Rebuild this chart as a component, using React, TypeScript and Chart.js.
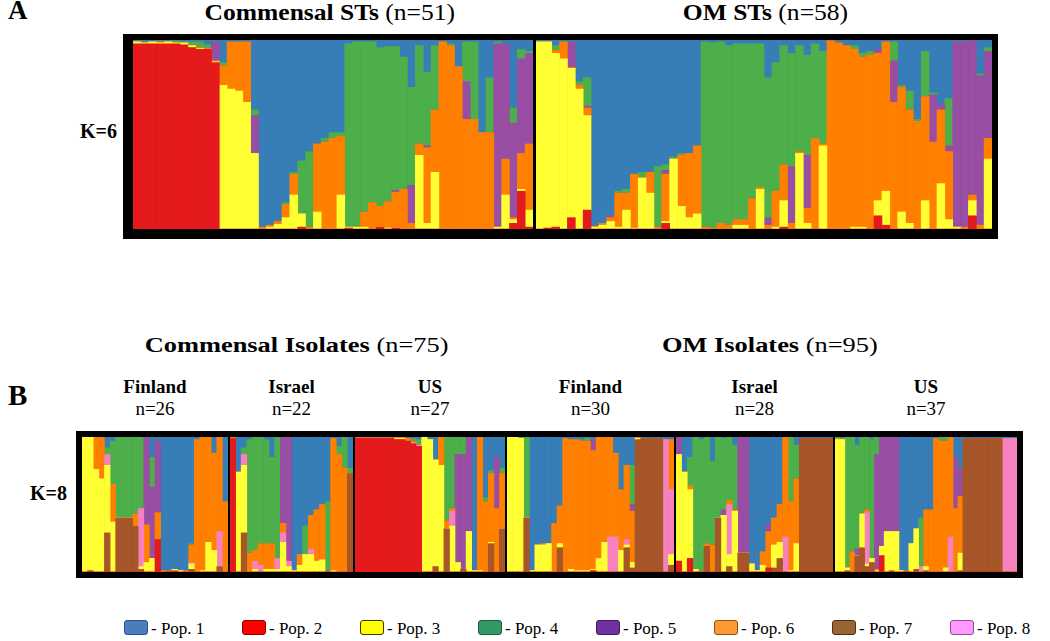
import React, { useEffect, useRef } from "react";
import { Chart, registerables } from "chart.js";

Chart.register(...registerables);

const FONT = '"Liberation Serif", "Times New Roman", serif';

// ---------- populations ----------
const popLabels = ["Pop. 1", "Pop. 2", "Pop. 3", "Pop. 4", "Pop. 5", "Pop. 6", "Pop. 7", "Pop. 8"];
const popBarColors = ["#377EB8", "#E41A1C", "#FFFF33", "#4DAF4A", "#984EA3", "#FF7F00", "#A65628", "#F781BF"];
const popLegendFill = ["#4A7EBB", "#FF0000", "#FFFF00", "#339966", "#7030A0", "#FF9933", "#996633", "#FF99FF"];
const popLegendEdge = ["#2F528F", "#8B0000", "#3A3A00", "#1E5C3D", "#3F1B5A", "#8A5218", "#4D3319", "#8A528A"];

// ---------- panel A : STs, K=6 ----------
const stGroupNames = ["Commensal STs", "OM STs"];
const stGroupTotals = ["(n=51)", "(n=58)"];
const stGroupCounts = [51, 58];
const stK = "K=6";

// each array: 51 commensal STs, then 58 OM STs
const stPop2 = [
  98, 98, 98, 98, 98, 98, 97.5, 96, 95, 95, 88, 0, 0, 0, 0, 0, 0, 0, 0, 0, 0, 1, 0, 0, 0, 0, 0, 0.5, 0, 0, 0, 1, 0, 0.5, 0, 0, 0, 0, 0, 0, 0, 0, 0, 0, 0, 0, 0, 0, 3, 20, 1,
  0, 0.5, 1, 0, 6, 0, 10, 0, 0, 0, 0, 0, 0, 0, 0, 0, 3, 0, 0, 0, 0, 0, 0, 0, 0, 0, 0, 0, 0, 0, 0, 1, 0, 0, 0, 0, 0, 0, 0, 0, 0, 0, 0, 7, 2, 0, 0, 0, 0, 0, 0, 0, 0, 0, 0, 7, 0, 0,
];
const stPop3 = [
  1, 0.5, 1, 0.5, 1, 0.5, 1, 1, 0.5, 0, 0.5, 76, 74, 73, 67, 40, 0, 1, 2.5, 6, 18, 7, 0, 9, 0, 0, 18, 0.5, 1, 1, 0, 0, 0.5, 0, 0, 0, 39, 3, 30, 0, 0, 0, 0, 0, 0, 0, 1, 18, 2, 1, 9,
  99, 98.5, 92, 90, 79, 74, 50, 1, 2, 4, 1, 10, 0.5, 27, 19, 0, 1, 37, 12, 6, 8, 0, 0, 0, 0, 2, 2, 0, 21, 0, 1, 14, 0, 40, 3, 0, 44, 0, 0, 0, 1, 1, 0, 8, 18, 0, 9, 3, 0, 15, 0, 24, 5, 1, 0, 8, 0, 37,
];
const stPop6 = [
  0, 0, 0, 0.5, 0, 0, 0, 0, 0.5, 0.5, 0.5, 10.5, 25, 26, 32, 0, 1, 1, 1.5, 7, 11, 0, 1, 36, 46, 48, 31, 0, 0, 8, 14, 11, 14, 19, 21, 3, 6, 40, 33, 99, 97, 86, 58, 58, 51, 51, 0, 19, 1, 19, 35,
  0, 0, 1.5, 9, 0.5, 2, 4, 0.5, 1, 2, 18, 9, 28.5, 0, 11, 1, 25, 0, 27, 34, 36, 1, 0.5, 3, 2, 3, 3, 16, 1, 2, 19, 19, 3, 1, 8, 48, 1, 99.5, 98.5, 97, 94, 90, 92, 78, 79, 67, 66, 60, 57, 55, 46, 39, 36, 0, 1, 3, 2, 11,
];
const stPop5 = [
  0, 0, 0, 0, 0, 0, 0, 0, 0, 0, 10, 0, 0, 0, 0, 20, 0, 0, 0, 0, 0, 0, 0, 0, 0, 0, 0, 0, 0, 0, 0, 0, 0, 1, 0, 20, 0, 1, 0, 0, 0, 0, 20, 0, 0, 0, 97, 61, 50, 50, 48,
  0, 0, 0, 0, 13.5, 0, 1, 0, 0, 1, 0, 0, 0, 0, 0, 0, 2, 0, 0, 0, 0, 0, 0, 0, 0, 0, 0, 0, 0, 4, 0, 0, 30, 0, 28, 0, 0, 0, 0, 0, 0, 0, 0, 2, 0, 22, 0, 0, 0, 0, 25, 3, 3, 98, 98, 82, 79, 46,
];
const stPop4 = [
  0.5, 0.5, 0, 0.5, 0.5, 1, 0.5, 2, 3, 2, 0, 1.5, 0, 0, 0, 3, 0, 0, 0, 1, 1, 28, 40, 0, 2, 3, 2, 97, 98, 90, 85, 84, 82, 76, 70, 52, 52, 39, 34, 0, 1, 0, 21, 41, 0, 29, 1, 0, 8, 5, 1,
  0, 0, 2.5, 0, 0, 2, 15, 0, 0, 0, 1, 2, 0, 3, 0, 32, 3, 1, 1, 0, 0, 98, 98, 96, 95, 93, 93, 82, 76, 74, 68, 63, 60, 56, 53, 50, 49, 0, 0, 0, 2, 2, 2, 0, 0, 10, 1, 10, 1, 24, 1, 0, 25, 0, 0, 0, 1, 2,
];
const stPop1 = [
  0.5, 1, 1, 0.5, 0.5, 0.5, 1, 1, 1, 2.5, 1, 12, 1, 1, 1, 37, 99, 98, 96, 86, 70, 64, 59, 55, 52, 49, 49, 2, 1, 1, 1, 4, 3.5, 3.5, 9, 25, 3, 17, 3, 1, 2, 14, 1, 1, 49, 20, 1, 2, 36, 5, 6,
  1, 1, 3, 1, 1, 22, 20, 98.5, 97, 93, 80, 79, 71, 70, 70, 67, 66, 62, 60, 60, 56, 1, 1.5, 1, 3, 2, 2, 2, 2, 20, 12, 3, 7, 3, 8, 2, 6, 0.5, 1.5, 3, 3, 7, 6, 5, 1, 1, 24, 27, 42, 6, 28, 34, 31, 1, 1, 0, 18, 4,
];

// ---------- panel B : isolates, K=8 ----------
const isoGroupNames = ["Commensal Isolates", "OM Isolates"];
const isoGroupTotals = ["(n=75)", "(n=95)"];
const isoRegionNames = ["Finland", "Israel", "US", "Finland", "Israel", "US"];
const isoRegionCounts = [26, 22, 27, 30, 28, 37];
const isoK = "K=8";

// rows: commensal Finland, Israel, US, then OM Finland, Israel, US
const isoPop2 = [
  0, 0, 0, 0, 0, 0, 0, 0, 0, 0, 0, 0, 0, 24, 0, 0, 0, 0, 0, 0, 0, 0, 0, 0, 0, 0,
  99, 0, 0, 0, 0, 0, 0, 0, 0, 0, 0, 0, 0, 0, 0, 0, 0, 0, 0, 0, 0, 0,
  99, 99, 99, 99, 99, 99, 99, 98, 98, 97, 95, 93, 0, 0, 0, 0, 0, 0, 0, 0, 0, 0, 0, 0, 0, 0, 0,
  0, 0, 0, 0, 0, 0, 0, 0, 0, 0, 0, 0, 0, 0, 0, 1, 0, 0, 0, 0, 0, 0, 0, 0, 0, 0, 0, 0, 0, 0,
  8, 0, 10, 0, 0, 0, 0, 0, 0, 0, 0, 0, 0, 0, 0, 0, 3, 0, 0, 0, 0, 0, 0, 0, 0, 0, 0, 0,
  0, 0, 0, 0, 0, 0, 0, 0, 0, 12, 0, 0, 0, 0, 0, 0, 0, 0, 0, 0, 0, 0, 0, 0, 0, 0, 0, 0, 0, 0, 0, 0, 0, 0, 0, 0, 0,
];
const isoPop7 = [
  0, 1, 0, 0, 29, 0, 40, 40, 40, 34, 2, 0, 0, 0, 0, 1, 1, 0, 0, 2, 0, 0, 0, 0, 4, 0,
  0, 0, 29, 0, 0, 0, 0, 0, 0, 0, 0, 0, 0, 0, 0, 0, 0, 0, 0, 0, 0, 73,
  0, 0, 0, 0, 0, 0, 0, 0, 0, 0, 0, 0, 0, 0, 4, 0, 32, 0, 0, 2, 0, 0, 0, 0, 21, 0, 32,
  0, 0, 0, 40, 0, 0, 0, 0, 0, 18, 0, 0, 0, 0, 0, 0, 0, 0, 0, 0, 0, 18, 3, 98, 99, 99, 99, 99, 0, 5,
  0, 0, 0, 0, 0, 19, 0, 40, 0, 4, 0, 14, 14, 0, 0, 0, 0, 3, 10, 0, 0, 0, 99, 99, 99, 99, 99, 99,
  0, 0, 1, 0, 12, 18, 4, 7, 0, 0, 0, 1, 0, 0, 1, 0, 2, 0, 1, 0, 0, 0, 0, 0, 0, 1, 99, 99, 99, 99, 99, 99, 99, 99, 0, 0, 0,
];
const isoPop3 = [
  100, 99, 76, 69, 50, 37, 0, 0, 0, 0, 2, 7, 10, 0, 0, 0, 1, 1, 0, 4, 0, 1, 22, 16, 0, 0,
  0, 74, 50, 0, 2, 0, 2, 2, 2, 22, 4, 1, 5, 13, 13, 8, 9, 0, 1, 0, 0, 0,
  0, 0, 0, 0, 0, 0, 0, 1, 1, 0, 0, 0, 100, 98, 79, 79, 0, 34, 7, 0, 30, 1, 1, 0, 1, 0, 0,
  100, 100, 99, 0, 1, 20, 20, 21, 0, 3, 0, 2, 1, 1, 1, 1, 10, 22, 0, 0, 16, 2, 4, 1, 0, 0, 0, 0, 0, 8,
  79, 74, 51, 2, 0, 0, 0, 0, 42, 9, 45, 0, 0, 6, 1, 5, 0, 17, 12, 0, 1, 21, 0, 0, 0, 0, 0, 0,
  98, 98, 2, 0, 0, 25, 2, 3, 1, 7, 30, 29, 30, 1, 0, 21, 30, 0, 3, 0, 0, 0, 3, 0, 0, 13, 0, 0, 0, 0, 0, 0, 0, 0, 0, 0, 0,
];
const isoPop8 = [
  0, 0, 0, 0, 8, 0, 0, 0, 0, 0, 43, 0, 0, 0, 0, 0, 0, 0, 0, 1, 0, 0, 0, 0, 26, 0,
  0, 0, 8, 0, 6, 5, 0, 0, 8, 7, 4, 0, 0, 0, 4, 0, 0, 0, 0, 0, 0, 0,
  0, 0, 0, 0, 0, 0, 0, 0, 0, 0, 1, 1, 0, 0, 0, 0, 0, 11, 0, 0, 0, 0, 0, 0, 0, 0, 0,
  0, 0, 0, 0, 0, 0, 0, 0, 0, 0, 0, 0, 0, 0, 0, 0, 0, 0, 26, 26, 0, 4, 0, 0, 0, 0, 0, 0, 98, 48,
  0, 0, 0, 0, 0, 0, 0, 0, 0, 37, 0, 0, 0, 0, 0, 0, 0, 0, 0, 26, 0, 0, 0, 0, 0, 0, 0, 0,
  0, 0, 0, 0, 0, 0, 38, 0, 0, 0, 0, 0, 0, 0, 0, 0, 0, 4, 0, 0, 0, 0, 0, 26, 0, 0, 0, 0, 0, 0, 0, 0, 0, 0, 99, 99, 99,
];
const isoPop6 = [
  0, 0, 24, 31, 0, 28, 0, 0, 0, 9, 0, 28, 0, 20, 1, 0, 0, 0, 1, 13, 98, 99, 78, 72, 70, 52,
  1, 0, 0, 14, 8, 16, 19, 19, 0, 7, 0, 0, 8, 0, 25, 38, 41, 0, 98, 87, 77, 0,
  0.5, 0.5, 0.5, 0.5, 0.5, 0.5, 0.5, 1, 1, 2, 1, 0, 0, 0, 0, 21, 6, 2, 0, 0, 0, 0, 99, 52, 51, 47, 41,
  0, 0, 0, 0, 0, 0, 1, 0, 36, 28, 99, 96, 97, 96, 96, 88, 90, 78, 74, 62, 45, 55, 38, 1, 0, 0, 0, 0, 0, 37,
  0, 0, 3, 0, 0, 2, 20, 0, 0, 3, 1, 0, 0, 0, 0, 10, 27, 20, 28, 74, 51, 48, 0, 0, 0, 0, 0, 0,
  1, 0, 0, 15, 0, 0, 2, 0, 1, 0, 0, 0, 0, 0, 0, 0, 0, 0, 42, 46, 99, 97, 94, 74, 47, 42, 0, 0, 0, 0, 0, 0, 0, 0, 0, 0, 0,
];
const isoPop5 = [
  0, 0, 0, 0, 0, 0, 0, 0, 0, 0, 0, 65, 53, 53, 0, 0, 0, 0, 0, 0, 0, 0, 0, 0, 0, 0,
  0, 0, 0, 0, 0, 0, 0, 0, 0, 64, 92, 0, 0, 0, 0, 0, 0, 1, 0, 0, 0, 0,
  0, 0, 0, 0, 0, 0, 0, 0, 0, 0, 0, 0, 0, 0, 0, 0, 0, 0, 80, 85, 70, 0, 0, 0, 0, 38, 0,
  0, 0, 0, 0, 0, 0, 0, 0, 0, 0, 0, 0, 0, 0, 0, 8, 0, 0, 0, 0, 0, 0, 5, 0, 0, 0, 0, 0, 0, 0,
  13, 0, 0, 0, 0, 0, 0, 0, 4, 0, 0, 86, 86, 0, 0, 0, 5, 0, 0, 0, 0, 0, 0, 0, 0, 0, 0, 0,
  0, 0, 0, 0, 5, 0, 0, 0, 85, 81, 70, 70, 70, 0, 0, 0, 0, 0, 0, 0, 0, 0, 0, 0, 38, 21, 0, 0, 0, 0, 0, 0, 0, 0, 0, 0, 0,
];
const isoPop4 = [
  0, 0, 0, 0, 5, 32, 60, 60, 60, 57, 53, 0, 22, 0, 0, 0, 0, 0, 0, 1, 0, 0, 0, 0, 0, 0,
  0, 0, 5, 84, 84, 79, 77, 64, 90, 0, 0, 0, 0, 21, 0, 0, 0, 51, 0, 6, 23, 4,
  0, 0, 0, 0, 0, 0, 0, 0, 0, 0, 2, 4, 0, 0, 0, 0, 62, 53, 13, 13, 0, 0, 0, 3, 2, 0, 4,
  0, 0, 1, 60, 0, 0, 0, 0, 0, 0, 0, 0, 0, 1, 2, 0, 0, 0, 0, 0, 0, 0, 29, 0, 0, 0, 0, 0, 0, 0,
  0, 0, 21, 98, 98, 79, 62, 60, 53, 47, 48, 0, 0, 0, 0, 0, 0, 0, 0, 0, 48, 25, 0, 0, 0, 0, 0, 0,
  1, 1, 97, 85, 77, 57, 54, 88, 13, 0, 0, 0, 0, 0, 0, 0, 0, 36, 0, 0, 0, 3, 3, 0, 0, 0, 0, 0, 0, 0, 0, 0, 0, 0, 0, 0, 0,
];
const isoPop1 = [
  0, 0, 0, 0, 8, 3, 0, 0, 0, 0, 0, 0, 15, 3, 99, 99, 98, 99, 99, 79, 2, 0, 0, 12, 0, 48,
  0, 26, 8, 2, 0, 0, 2, 15, 0, 0, 0, 99, 87, 66, 58, 54, 50, 48, 1, 7, 0, 23,
  0.5, 0.5, 0.5, 0.5, 0.5, 0.5, 0.5, 0, 0, 1, 1, 2, 0, 2, 17, 0, 0, 0, 0, 0, 0, 99, 0, 45, 25, 15, 23,
  0, 0, 0, 0, 99, 80, 79, 79, 64, 51, 1, 2, 2, 2, 1, 2, 0, 0, 0, 12, 39, 21, 21, 0, 1, 1, 1, 1, 2, 2,
  0, 26, 15, 0, 2, 0, 18, 0, 1, 0, 6, 0, 0, 94, 99, 85, 65, 60, 50, 0, 0, 6, 1, 1, 1, 1, 1, 1,
  0, 1, 0, 0, 6, 0, 0, 2, 0, 0, 0, 0, 0, 99, 99, 79, 68, 60, 54, 54, 1, 0, 0, 0, 15, 23, 1, 1, 1, 1, 1, 1, 1, 1, 1, 1, 1,
];

type Series = { label: string; color: string; values: number[] };

// bottom-to-top stacking order
const stSeries: Series[] = [
  { label: popLabels[1], color: popBarColors[1], values: stPop2 },
  { label: popLabels[2], color: popBarColors[2], values: stPop3 },
  { label: popLabels[5], color: popBarColors[5], values: stPop6 },
  { label: popLabels[4], color: popBarColors[4], values: stPop5 },
  { label: popLabels[3], color: popBarColors[3], values: stPop4 },
  { label: popLabels[0], color: popBarColors[0], values: stPop1 },
];
const isoSeries: Series[] = [
  { label: popLabels[1], color: popBarColors[1], values: isoPop2 },
  { label: popLabels[6], color: popBarColors[6], values: isoPop7 },
  { label: popLabels[2], color: popBarColors[2], values: isoPop3 },
  { label: popLabels[7], color: popBarColors[7], values: isoPop8 },
  { label: popLabels[5], color: popBarColors[5], values: isoPop6 },
  { label: popLabels[4], color: popBarColors[4], values: isoPop5 },
  { label: popLabels[3], color: popBarColors[3], values: isoPop4 },
  { label: popLabels[0], color: popBarColors[0], values: isoPop1 },
];

// ---------- layout ----------
const stFrame = { left: 123, top: 34, width: 875, height: 205 };
const stStripLeft = [133, 536];
const stStripWidth = [400, 456];
const stStripTop = 40;
const stStripHeight = 189;
const stTitleCenter = [330, 765];

const isoFrame = { left: 76, top: 431, width: 947, height: 147 };
const isoStripLeft = [82, 230, 355, 507, 676, 835];
const isoStripWidth = [146, 123, 150, 167, 157, 182];
const isoStripTop = 437;
const isoStripHeight = 135;
const isoTitleCenter = [297, 770];

function starts(counts: number[]) {
  const out: number[] = [];
  let s = 0;
  for (const c of counts) {
    out.push(s);
    s += c;
  }
  return out;
}

function StackedStrip(props: {
  series: Series[];
  start: number;
  count: number;
  left: number;
  top: number;
  width: number;
  height: number;
}) {
  const { series, start, count, left, top, width, height } = props;
  const ref = useRef<HTMLCanvasElement>(null);
  useEffect(() => {
    const canvas = ref.current;
    if (!canvas) return;
    const labels = Array.from({ length: count }, (_, i) => String(start + i + 1));
    const totals = labels.map((_, i) => series.reduce((s, p) => s + p.values[start + i], 0));
    const chart = new Chart(canvas, {
      type: "bar",
      data: {
        labels,
        datasets: series.map((p) => ({
          label: p.label,
          data: labels.map((_, i) => (p.values[start + i] / totals[i]) * 100),
          backgroundColor: p.color,
          borderWidth: 0,
          barPercentage: 1,
          categoryPercentage: 1,
        })),
      },
      options: {
        animation: false,
        responsive: false,
        maintainAspectRatio: false,
        events: [],
        layout: { padding: 0 },
        plugins: { legend: { display: false }, tooltip: { enabled: false } },
        scales: {
          x: { stacked: true, display: false },
          y: { stacked: true, display: false, min: 0, max: 100 },
        },
      },
    });
    return () => chart.destroy();
  }, [series, start, count, width, height]);
  return (
    <canvas
      ref={ref}
      width={width}
      height={height}
      style={{ position: "absolute", left, top, width, height, display: "block" }}
    />
  );
}

function Txt(props: {
  x: number;
  baseline: number;
  size: number;
  center?: boolean;
  scale?: number;
  children: React.ReactNode;
}) {
  const { x, baseline, size, center = true, scale = 1, children } = props;
  const top = baseline - 0.8375 * size;
  const style: React.CSSProperties = {
    position: "absolute",
    top,
    fontFamily: FONT,
    fontSize: size,
    lineHeight: `${size}px`,
    whiteSpace: "nowrap",
    color: "#000",
  };
  if (center) {
    style.left = x - 400;
    style.width = 800;
    style.textAlign = "center";
  } else {
    style.left = x;
  }
  return (
    <div style={style}>
      <span
        style={{
          display: "inline-block",
          transform: `scaleX(${scale})`,
          transformOrigin: center ? "50% 50%" : "0 50%",
        }}
      >
        {children}
      </span>
    </div>
  );
}

export default function App() {
  const stStarts = starts(stGroupCounts);
  const isoStarts = starts(isoRegionCounts);
  return (
    <div
      style={{
        position: "absolute",
        left: 0,
        top: 0,
        width: 1050,
        height: 641,
        background: "#fff",
        overflow: "hidden",
      }}
    >
      {/* Panel A */}
      <Txt x={8} baseline={20} size={27} center={false}>
        <b>A</b>
      </Txt>
      {stGroupNames.map((g, i) => (
        <Txt key={g} x={stTitleCenter[i]} baseline={20} size={23} scale={1.11}>
          <b>{g}</b> {stGroupTotals[i]}
        </Txt>
      ))}
      <Txt x={80} baseline={138} size={20} center={false}>
        <b>{stK}</b>
      </Txt>
      <div style={{ position: "absolute", background: "#000", ...stFrame }} />
      {stGroupCounts.map((c, i) => (
        <StackedStrip
          key={"st" + i}
          series={stSeries}
          start={stStarts[i]}
          count={c}
          left={stStripLeft[i]}
          top={stStripTop}
          width={stStripWidth[i]}
          height={stStripHeight}
        />
      ))}

      {/* Panel B */}
      {isoGroupNames.map((g, i) => (
        <Txt key={g} x={isoTitleCenter[i]} baseline={352} size={22} scale={1.2}>
          <b>{g}</b> {isoGroupTotals[i]}
        </Txt>
      ))}
      <Txt x={8} baseline={405} size={29} center={false}>
        <b>B</b>
      </Txt>
      {isoRegionNames.map((r, i) => (
        <React.Fragment key={"lab" + i}>
          <Txt x={isoStripLeft[i] + isoStripWidth[i] / 2} baseline={393} size={19}>
            <b>{r}</b>
          </Txt>
          <Txt x={isoStripLeft[i] + isoStripWidth[i] / 2} baseline={415} size={19}>
            {"n=" + isoRegionCounts[i]}
          </Txt>
        </React.Fragment>
      ))}
      <Txt x={30} baseline={500} size={20} center={false}>
        <b>{isoK}</b>
      </Txt>
      <div style={{ position: "absolute", background: "#000", ...isoFrame }} />
      {isoRegionCounts.map((c, i) => (
        <StackedStrip
          key={"iso" + i}
          series={isoSeries}
          start={isoStarts[i]}
          count={c}
          left={isoStripLeft[i]}
          top={isoStripTop}
          width={isoStripWidth[i]}
          height={isoStripHeight}
        />
      ))}

      {/* Legend */}
      {popLabels.map((p, i) => {
        const x = 124 + 118 * i;
        return (
          <React.Fragment key={p}>
            <div
              style={{
                position: "absolute",
                left: x,
                top: 620,
                width: 24,
                height: 15,
                boxSizing: "border-box",
                background: popLegendFill[i],
                border: `1.5px solid ${popLegendEdge[i]}`,
                borderRadius: 3,
              }}
            />
            <Txt x={x + 27} baseline={634} size={17} center={false}>
              {"- " + p}
            </Txt>
          </React.Fragment>
        );
      })}
    </div>
  );
}
